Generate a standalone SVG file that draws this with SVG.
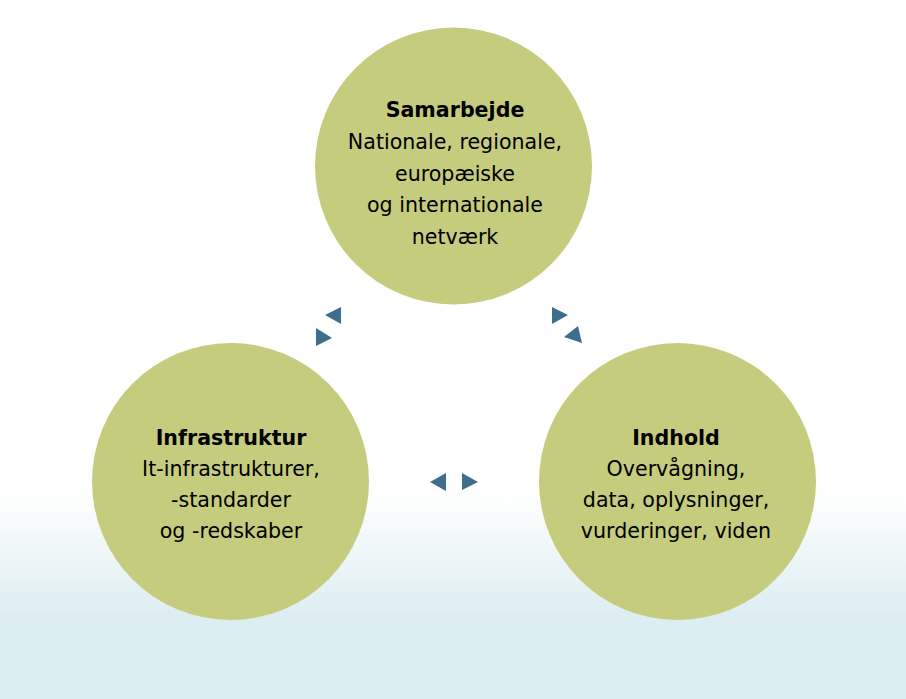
<svg xmlns="http://www.w3.org/2000/svg" width="906" height="699" viewBox="0 0 906 699">
<defs>
<linearGradient id="bg" x1="0" y1="0" x2="0" y2="1">
<stop offset="0" stop-color="#ffffff"/>
<stop offset="0.6" stop-color="#ddeef2"/>
<stop offset="1" stop-color="#ddeef2"/>
</linearGradient>
<style>
.c{fill:#c5cc7e}
.t{font-family:"DejaVu Sans",Verdana,sans-serif;font-size:20.6px;fill:#000;text-anchor:middle}
.b{font-weight:bold}
.a{fill:#3e6d8e}
</style>
</defs>
<rect width="906" height="699" fill="#fff"/>
<rect y="490" width="906" height="209" fill="url(#bg)"/>
<g id="samarbejde">
<circle class="c" cx="453.5" cy="166" r="138.5"/>
<text class="t b" x="455" y="117">Samarbejde</text>
<text class="t" x="455" y="149">Nationale, regionale,</text>
<text class="t" x="455" y="181">europæiske</text>
<text class="t" x="455" y="212">og internationale</text>
<text class="t" x="455" y="244">netværk</text>
</g>
<g id="infrastruktur">
<circle class="c" cx="230.5" cy="481.5" r="138.5"/>
<text class="t b" x="231" y="445">Infrastruktur</text>
<text class="t" x="231" y="476">It-infrastrukturer,</text>
<text class="t" x="231" y="507">-standarder</text>
<text class="t" x="231" y="538">og -redskaber</text>
</g>
<g id="indhold">
<circle class="c" cx="677.5" cy="481.5" r="138.5"/>
<text class="t b" x="676" y="445">Indhold</text>
<text class="t" x="676" y="476">Overvågning,</text>
<text class="t" x="676" y="507">data, oplysninger,</text>
<text class="t" x="676" y="538">vurderinger, viden</text>
</g>
<g id="connectors">
<polygon class="a" points="325,315 341,307 341,324"/>
<polygon class="a" points="316,328 332,338 316,346"/>
<polygon class="a" points="552,307 568,315 552,324"/>
<polygon class="a" points="564,337 578,326 582,343"/>
<polygon class="a" points="430,482 446,473 446,491"/>
<polygon class="a" points="462,473 478,482 462,490"/>
</g>
</svg>
